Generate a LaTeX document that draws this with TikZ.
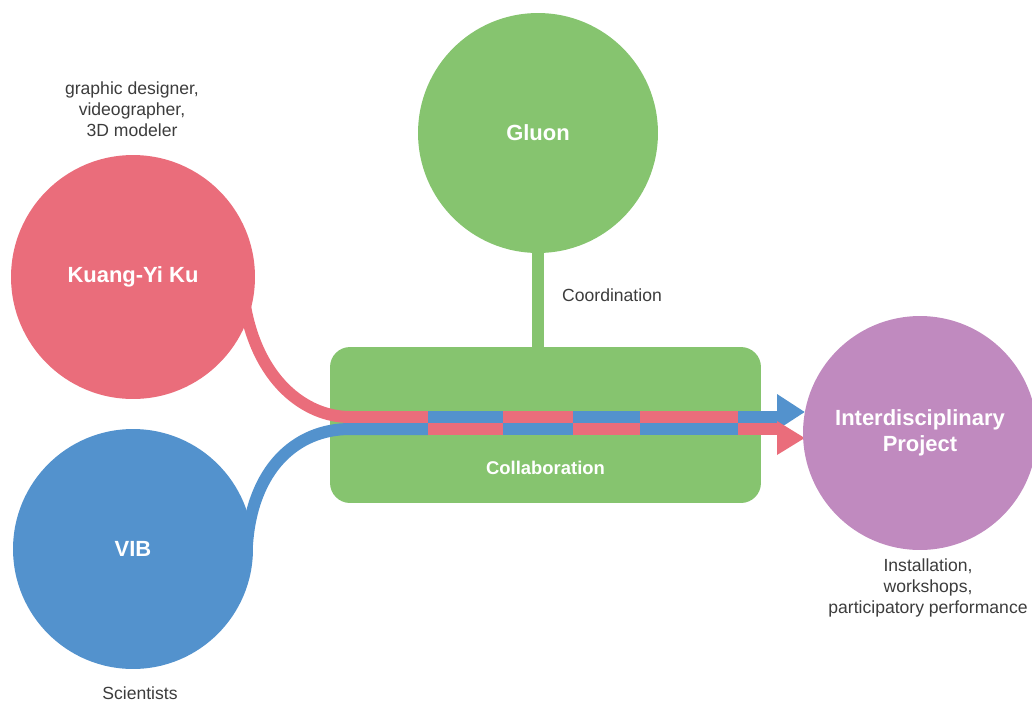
\documentclass[tikz,border=0pt]{standalone}
\usepackage{fontspec}
\setmainfont{Liberation Sans}
\usetikzlibrary{backgrounds}
\definecolor{gluongreen}{RGB}{134,196,111}
\definecolor{kuangred}{RGB}{234,109,123}
\definecolor{vibblue}{RGB}{83,146,205}
\definecolor{projectpurple}{RGB}{192,138,191}
\definecolor{notegray}{RGB}{60,60,60}

\begin{document}
\begin{tikzpicture}[x=0.02cm, y=-0.02cm,
        bubble/.style={circle, fill=#1, inner sep=0pt, text=white, align=center,
                font=\fontsize{12.5}{14.7}\selectfont\bfseries},
        note/.style={text=notegray, align=center, font=\fontsize{10}{12}\selectfont},
        band/.style={line width=0.24cm, draw=#1}]
        \useasboundingbox (0,0) rectangle (1032,704);

        \node (gluon) at (538,133) [bubble=gluongreen, minimum size=4.8cm] {Gluon};
        \node (kuang) at (133,277) [bubble=kuangred, minimum size=4.88cm] {Kuang-Yi Ku};
        \node (vib) at (133,549) [bubble=vibblue, minimum size=4.8cm] {VIB};
        \node (project) at (920,433) [bubble=projectpurple, minimum size=4.68cm] {Interdisciplinary\\Project};

        \node (roles) at (132,109) [note] {graphic designer,\\videographer,\\3D modeler};
        \node (scientists) at (140,693) [note] {Scientists};
        \node (outputs) at (928,588) [note] {Installation,\\workshops,\\participatory performance};
        \node (coordination) at (556,295) [note, anchor=west] {Coordination};

        \begin{scope}[on background layer]
        \node (collab) at (545.5,425) [fill=gluongreen, rounded corners=0.4cm, minimum width=8.62cm, minimum height=3.12cm,
                label={[yshift=-0.86cm, text=white, font=\fontsize{10.5}{12}\selectfont\bfseries]center:Collaboration}] {};
        \draw[band=gluongreen] (gluon.south) -- (gluon.south |- collab.north);

        \path (project.west) ++(2,-21) coordinate (toptip) (project.west) ++(2,5) coordinate (bottip);

        \draw[band=kuangred] ([shift={(111,23)}]kuang.center) .. controls (256,380) and (305,417) .. (350,417) -- (428,417);
        \draw[band=vibblue] ([shift={(114,-4)}]vib.center) .. controls (252,470) and (295,429) .. (350,429) -- (428,429);
        \foreach \a/\b/\c/\d in {428/503/429/417, 503/573/417/429, 573/640/429/417, 640/738/417/429}
        {
                \draw[band=kuangred] (\a,\c) -- (\b,\c);
                \draw[band=vibblue] (\a,\d) -- (\b,\d);
        }
        \draw[band=vibblue] (738,417) -- (778,417);
        \fill[vibblue] (777,394) -- (toptip) -- (777,430) -- cycle;
        \draw[band=kuangred] (738,429) -- (778,429);
        \fill[kuangred] (777,421) -- (bottip) -- (777,455) -- cycle;
        \end{scope}
\end{tikzpicture}
\end{document}
